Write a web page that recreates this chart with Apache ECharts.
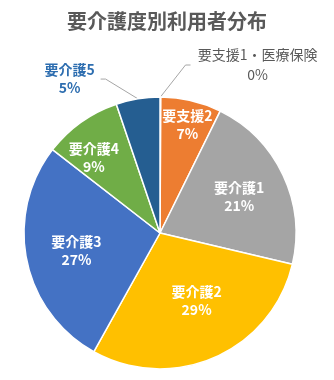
<!DOCTYPE html>
<html>
<head>
<meta charset="utf-8">
<script src="https://cdn.jsdelivr.net/npm/echarts@6/dist/echarts.min.js"></script>
<style>
html,body{margin:0;padding:0;background:#fff;}
#chart{width:334px;height:380px;}
</style>
</head>
<body>
<div id="chart"></div>
<script>
const titleText = '要介護度別利用者分布';
const categories = ['要支援1・医療保険', '要支援2', '要介護1', '要介護2', '要介護3', '要介護4', '要介護5'];
const shares = [0.1, 7.2, 21.4, 29.4, 27.4, 9.3, 5.2];

const colors = ['#4472C4', '#ED7D31', '#A5A5A5', '#FFC000', '#4472C4', '#70AD47', '#255E91'];
const FONT = '"Noto Sans CJK JP", "Noto Sans", sans-serif';

const insideOffsets = [null, [11, -39], [15, -6], [8, 3], [-14, 4], [-25, -17], null];

const data = categories.map((name, i) => {
  const item = { name: name, value: shares[i], itemStyle: { color: colors[i] } };
  if (i === 0) {
    item.label = {
      position: 'outside', color: '#595959', fontWeight: 'normal',
      formatter: p => '{a|' + p.name + '}\n{a|' + Math.round(p.value) + '%}',
      rich: { a: { width: 124, align: 'center', fontSize: 14, lineHeight: 20, color: '#595959', fontFamily: FONT } }
    };
    item.labelLine = { show: true, length: 32, length2: 30, lineStyle: { color: '#A6A6A6', width: 1 } };
  } else if (i === 6) {
    item.label = {
      position: 'outside', color: '#2E6EB0', fontWeight: 'bold',
      formatter: p => '{a|' + p.name + '}\n{a|' + Math.round(p.value) + '%}',
      rich: { a: { width: 52, align: 'center', fontSize: 14, lineHeight: 18, fontWeight: 'bold', color: '#2E6EB0', fontFamily: FONT } }
    };
    item.labelLine = { show: true, length: 20, length2: 34, lineStyle: { color: '#A6A6A6', width: 1 } };
  } else {
    item.label = { position: 'inside', offset: insideOffsets[i] };
    item.labelLine = { show: false };
  }
  return item;
});

function px(pt) { return Array.isArray(pt) ? pt[0] : pt.x; }
function py(pt) { return Array.isArray(pt) ? pt[1] : pt.y; }

const chart = echarts.init(document.getElementById('chart'), null, { renderer: 'canvas' });
chart.setOption({
  animation: false,
  backgroundColor: '#ffffff',
  title: {
    text: titleText, left: 'center', top: 6,
    textStyle: { fontFamily: FONT, fontSize: 20, fontWeight: 'bold', color: '#595959' }
  },
  series: [{
    type: 'pie',
    center: [160, 233],
    radius: 136,
    startAngle: 90,
    clockwise: true,
    avoidLabelOverlap: false,
    itemStyle: { borderColor: '#ffffff', borderWidth: 1.5 },
    label: {
      show: true,
      fontFamily: FONT, fontSize: 14, fontWeight: 'bold', color: '#ffffff', lineHeight: 18,
      formatter: p => p.name + '\n' + Math.round(p.value) + '%'
    },
    labelLayout: function (p) {
      const pts = p.labelLinePoints;
      if ((p.dataIndex === 0 || p.dataIndex === 6) && pts && pts.length === 3) {
        const ex = px(pts[2]), ey = py(pts[2]);
        const dir = ex > px(pts[1]) ? 1 : -1;
        return {
          labelLinePoints: [[px(pts[0]), py(pts[0])], [ex - dir * 5, ey], [ex, ey]]
        };
      }
      return {};
    },
    emphasis: { disabled: true },
    data: data
  }]
});
</script>
</body>
</html>
